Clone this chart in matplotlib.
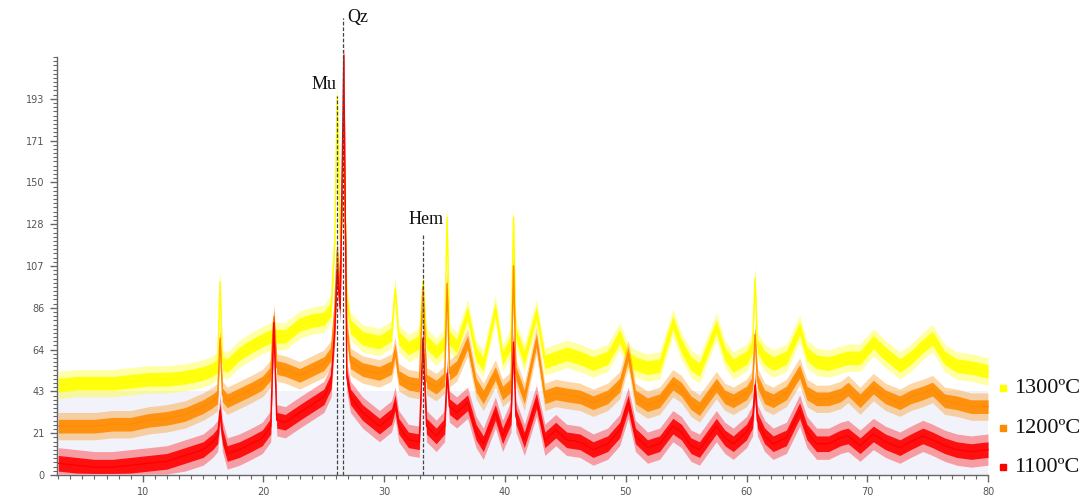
import matplotlib
matplotlib.use("Agg")
import matplotlib.pyplot as plt
from matplotlib.lines import Line2D
from matplotlib.ticker import MultipleLocator
import numpy as np

# 2-theta positions (deg), shared by the three patterns
twoTheta = [3, 4.5, 6, 7.5, 9, 10.5, 12, 13.5, 15, 15.8,
            16.2, 16.4, 16.6, 17.0, 18.0, 19.0, 19.9, 20.6, 20.85, 21.1,
            21.8, 23.0, 24.0, 25.0, 25.6, 25.9, 26.1, 26.35, 26.65, 26.9,
            27.2, 28.2, 29.6, 30.6, 30.9, 31.2, 32.0, 32.9, 33.2, 33.5,
            34.3, 35.0, 35.2, 35.4, 36.0, 36.9, 37.6, 38.2, 39.2, 39.8,
            40.5, 40.7, 40.9, 41.6, 42.6, 43.3, 44.2, 45.1, 46.2, 47.3,
            48.5, 49.5, 50.2, 50.8, 51.8, 52.8, 53.9, 54.6, 55.4, 56.1,
            57.5, 58.2, 58.9, 60.0, 60.5, 60.7, 60.9, 61.5, 62.2, 63.3,
            64.4, 65.0, 65.8, 66.8, 67.8, 68.4, 69.4, 70.5, 71.5, 72.7,
            73.6, 74.6, 75.4, 76.4, 77.4, 78.6, 80]

int1300 = [46, 47, 47, 47, 48, 49, 49, 50, 52, 54,
           56, 99, 57, 56, 62, 66, 69, 71, 72, 71,
           71, 77, 79, 80, 85, 120, 194, 120, 175, 90,
           76, 70, 68, 72, 95, 70, 65, 68, 99, 68,
           63, 68, 132, 70, 66, 83, 62, 57, 85, 60,
           68, 132, 72, 60, 83, 58, 60, 62, 60, 57,
           60, 71, 60, 57, 55, 56, 78, 66, 57, 54,
           76, 62, 56, 60, 66, 101, 66, 60, 57, 60,
           75, 62, 58, 57, 59, 60, 60, 68, 62, 56,
           60, 66, 70, 60, 56, 55, 53]

int1200 = [25, 25, 25, 26, 26, 28, 29, 31, 35, 38,
           40, 70, 41, 38, 41, 44, 47, 52, 81, 55,
           54, 51, 54, 57, 62, 85, 115, 95, 184, 75,
           58, 54, 52, 55, 64, 50, 47, 46, 96, 48,
           45, 49, 98, 52, 55, 68, 46, 40, 52, 42,
           46, 107, 52, 40, 69, 40, 42, 41, 40, 37,
           40, 46, 62, 40, 36, 38, 47, 44, 37, 34,
           46, 40, 38, 42, 47, 72, 48, 40, 38, 42,
           53, 42, 39, 39, 41, 44, 38, 45, 40, 37,
           40, 42, 44, 38, 37, 35, 35]

int1100 = [6, 5, 4, 4, 5, 6, 7, 10, 13, 17,
           20, 33, 20, 11, 13, 16, 19, 25, 78, 28,
           27, 32, 36, 40, 48, 75, 105, 85, 215, 50,
           40, 32, 25, 30, 37, 25, 18, 17, 70, 25,
           20, 25, 52, 35, 32, 37, 22, 16, 32, 20,
           30, 68, 30, 18, 38, 18, 23, 18, 17, 13,
           16, 23, 37, 20, 14, 16, 25, 22, 15, 13,
           25, 19, 16, 22, 28, 46, 28, 20, 16, 19,
           33, 22, 16, 16, 19, 20, 15, 21, 17, 14,
           17, 20, 18, 15, 13, 12, 13]

# noise: dense core half width, spike half width
noise1300 = (3.5, 7)
noise1200 = (3.5, 7)
noise1100 = (4, 8)

seriesLabels = ["1300ºC", "1200ºC", "1100ºC"]
seriesColors = ["#ffff00", "#ff8c00", "#ff0000"]

# phase markers: label, 2-theta, top of dashed line
phaseNames = ["Mu", "Qz", "Hem"]
phasePos = [26.07, 26.57, 33.2]
phaseTop = [194, 234, 123]

yStep = 21.4
yTickLabels = ["0", "21", "43", "64", "86", "107", "128", "150", "171", "193"]

fig = plt.figure(figsize=(10.92, 4.99), dpi=100)
ax = fig.add_axes([0.0522, 0.0481, 0.8526, 0.8377])

ax.axhspan(0, 43, facecolor="#f2f2fb", edgecolor="none", zorder=0)

x = np.array(twoTheta)
data = [(np.array(int1300), noise1300), (np.array(int1200), noise1200), (np.array(int1100), noise1100)]
for i, ((y, (core, spike)), c) in enumerate(zip(data, seriesColors)):
    z = 2 + i
    ax.fill_between(x, np.maximum(y - spike, 0.5), y + spike, color=c, alpha=0.35, lw=0, zorder=z, clip_on=False)
    ax.fill_between(x, np.maximum(y - core, 0.8), y + core, color=c, alpha=0.9, lw=0, zorder=z, clip_on=False)
    ax.plot(x, y, color=c, lw=1.0, zorder=z, clip_on=False)

for name, pos, top in zip(phaseNames, phasePos, phaseTop):
    ax.plot([pos, pos], [0, top], color="#444444", lw=0.9, ls=(0, (3, 1.5)), zorder=6, clip_on=False)

ax.text(26.05, 200, "Mu", ha="right", va="center", fontsize=13, family="Liberation Serif", color="#111111")
ax.text(26.95, 234, "Qz", ha="left", va="center", fontsize=13, family="Liberation Serif", color="#111111")
ax.text(33.5, 131, "Hem", ha="center", va="center", fontsize=13, family="Liberation Serif", color="#111111")

ax.set_xlim(2.9, 80)
ax.set_ylim(0, 10 * yStep)
ax.set_xticks(range(10, 81, 10))
ax.xaxis.set_minor_locator(MultipleLocator(1))
ax.set_yticks([k * yStep for k in range(10)])
ax.set_yticklabels(yTickLabels)
ax.yaxis.set_minor_locator(MultipleLocator(yStep / 10))

for side in ["top", "right"]:
    ax.spines[side].set_visible(False)
for side in ["left", "bottom"]:
    ax.spines[side].set_color("#666666")
    ax.spines[side].set_linewidth(1.0)
    ax.spines[side].set_zorder(7)
ax.tick_params(which="major", length=5, width=1, color="#666666", labelsize=7, labelcolor="#555555", pad=4)
ax.tick_params(which="minor", length=3, width=0.8, color="#666666")
ax.set_facecolor("none")

# legend on the right
legendY = [0.222, 0.142, 0.064]
for lab, c, ly in zip(seriesLabels, seriesColors, legendY):
    fig.add_artist(Line2D([0.9185], [ly], marker="s", markersize=4.5, color=c, transform=fig.transFigure))
    fig.text(0.929, ly, lab, ha="left", va="center", fontsize=16, family="Liberation Serif", color="#111111")

fig.savefig("out.png", dpi=100)
